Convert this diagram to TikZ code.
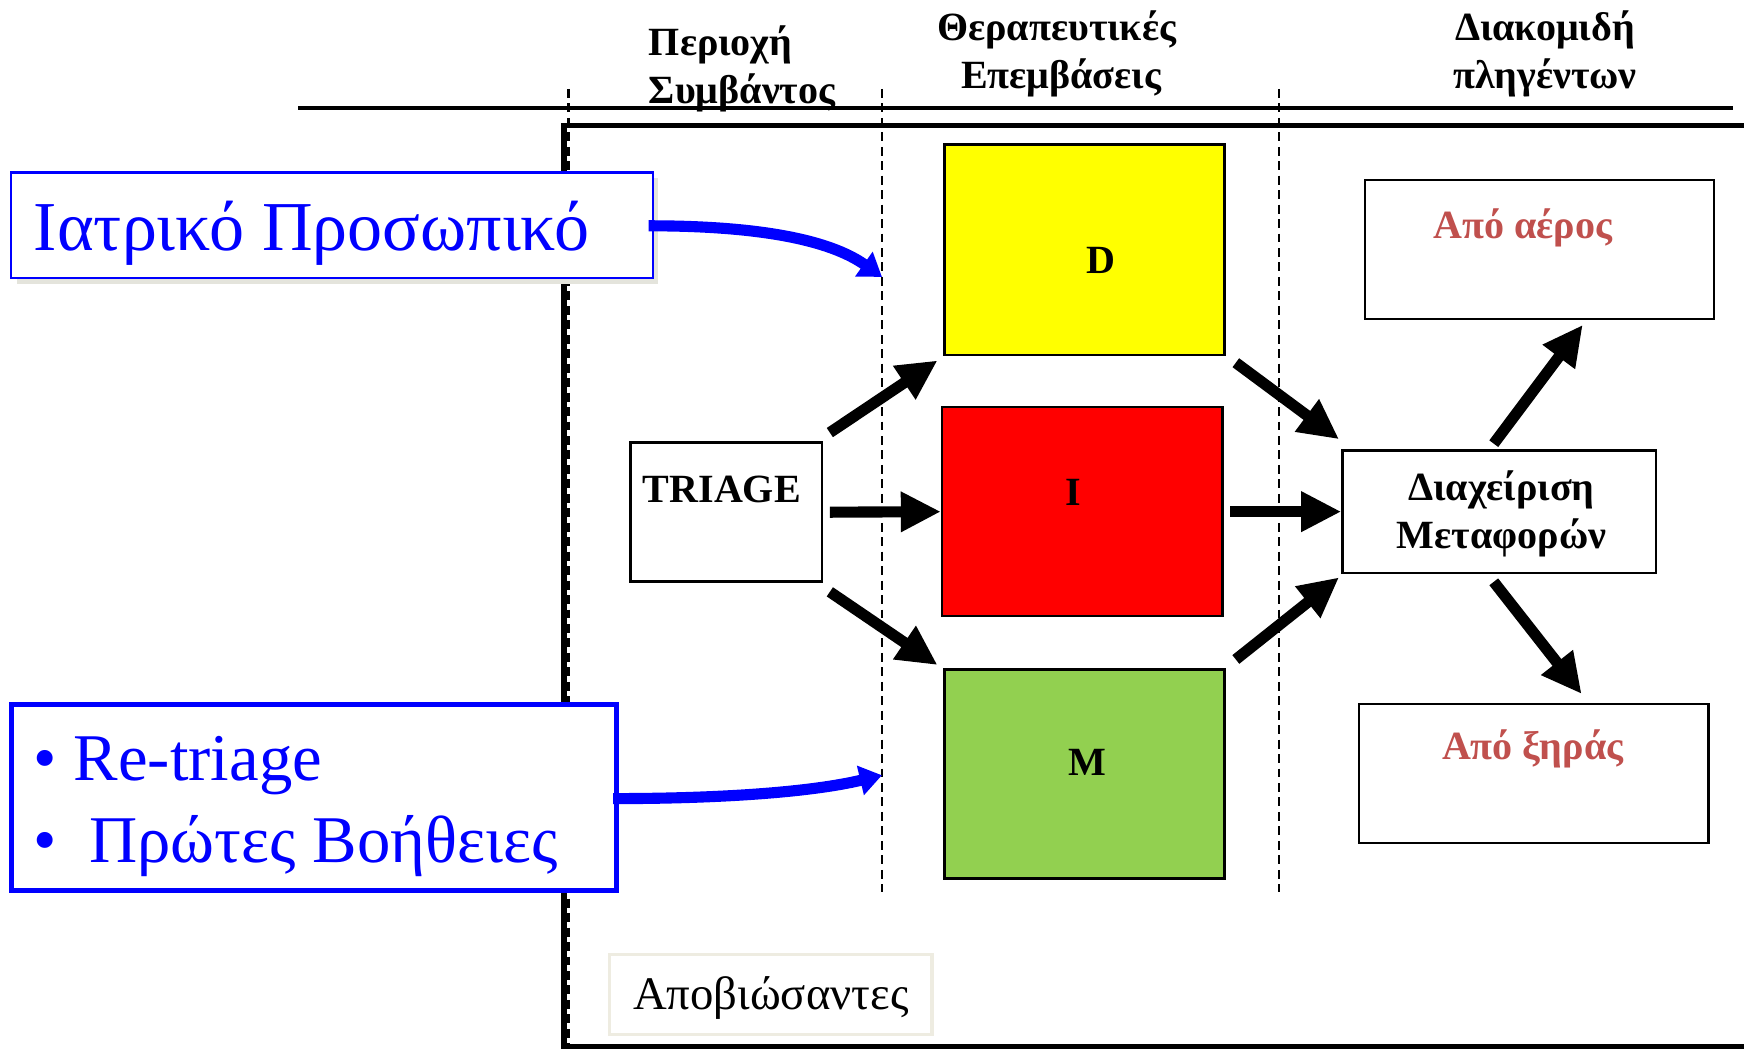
\documentclass[tikz,border=0pt]{standalone}
\usepackage{fontspec}
\setmainfont{Liberation Serif}
\usetikzlibrary{arrows.meta,calc}
\definecolor{dgreen}{HTML}{92D050}
\definecolor{redtxt}{HTML}{C0504D}
\definecolor{beige}{HTML}{EEECE1}
\definecolor{pblue}{RGB}{0,0,255}
\definecolor{pyellow}{RGB}{255,255,0}
\definecolor{shadowc}{RGB}{228,228,220}
\begin{document}
\begin{tikzpicture}[x=0.5pt,y=-0.5pt,
  box/.style={draw=black, line width=1.1pt, fill=white, inner sep=0pt},
  hdr/.style={font=\bfseries\fontsize{18}{22}\selectfont, anchor=base, inner sep=0pt},
  lbl/.style={font=\bfseries\fontsize{18}{22}\selectfont, inner sep=0pt},
  blk/.style={line width=5pt, -{Triangle[length=18pt,width=17pt]}},
  blu/.style={draw=pblue, line width=5pt, -{Triangle[length=10pt,width=13pt]}},
  frameline/.style={line width=2.5pt},
  dashline/.style={line width=1.2pt, dash pattern=on 4pt off 2.5pt}
]
\useasboundingbox (0,0) rectangle (1568,944);
% frame and rules
\draw[frameline] (1568,113) -- (507,113) -- (507,941) -- (1568,941);
\draw[line width=1.5pt] (268,97) -- (1558,97);
\draw[dashline] (511,80) -- (511,940);
\draw[dashline] (793,80) -- (793,802);
\draw[dashline] (1150,80) -- (1150,802);
% headers
\node[hdr, anchor=base west] (h1a) at (583,49.5) {Περιοχή};
\node[hdr, anchor=base west] (h1b) at (583,93) {Συμβάντος};
\node[hdr] (h2a) at (950,36) {Θεραπευτικές};
\node[hdr] (h2b) at (954,79.5) {Επεμβάσεις};
\node[hdr] (h3a) at (1389,36) {Διακομιδή};
\node[hdr] (h3b) at (1389,79.5) {πληγέντων};
% boxes
\node[box, fill=pyellow, minimum width=126pt, minimum height=94.5pt] (D) at (975,224.5) {};
\node[box, fill=red, minimum width=126pt, minimum height=94pt] (I) at (973,460) {};
\node[box, fill=dgreen, minimum width=126pt, minimum height=94pt] (M) at (975,696) {};
\node[lbl] (Dt) at (990,234) {D};
\node[lbl] (It) at (965,443) {I};
\node[lbl] (Mt) at (978,685) {M};
\node[box, minimum width=86pt, minimum height=62.5pt] (triage) at (653,460.5) {};
\node[lbl] (triaget) at (649,440) {TRIAGE};
\node[box, minimum width=141pt, minimum height=55pt] (dm) at (1348,460) {};
\node[lbl, anchor=base] (dmt1) at (1350,450) {Διαχείριση};
\node[lbl, anchor=base] (dmt2) at (1350,493) {Μεταφορών};
\node[box, minimum width=157pt, minimum height=62.5pt] (aer) at (1384,224.5) {};
\node[box, minimum width=157pt, minimum height=62.5pt] (xir) at (1379,695.5) {};
\node[lbl, text=redtxt, anchor=base] (aert) at (1369,214) {Από αέρος};
\node[lbl, text=redtxt, anchor=base] (xirt) at (1378,683) {Από ξηράς};
% left blue boxes
\fill[shadowc] (15,160) rectangle (592,255);
\node[box, draw=pblue, line width=1.2pt, minimum width=288.5pt, minimum height=47.5pt] (iatr) at (298.5,202.5) {};
\node[anchor=base west, text=pblue, font=\fontsize{31.5}{36}\selectfont, inner sep=0pt] (iatrt) at (30,225) {Ιατρικό Προσωπικό};
\node[box, draw=pblue, line width=2.25pt, minimum width=272pt, minimum height=84pt] (rtri) at (282,717) {};
\node[anchor=base west, text=pblue, font=\fontsize{30}{36}\selectfont, inner sep=0pt] (rt1) at (30,702) {• Re-triage};
\node[anchor=base west, text=pblue, font=\fontsize{30}{36}\selectfont, inner sep=0pt] (rt2) at (30,775) {• \hspace{7pt}Πρώτες Βοήθειες};
% deceased box
\node[box, draw=beige, line width=1.5pt, minimum width=145pt, minimum height=36pt] (apo) at (693,894) {};
\node[anchor=base, font=\fontsize{21}{25}\selectfont, inner sep=0pt] (apot) at (693,908) {Αποβιώσαντες};
% blue arrows
\coordinate (e1) at (793,249);
\coordinate (e2) at (793,697);
\draw[blu] ($(iatr.east)+(-5,0.5)$) .. controls (680,203) and (745,215) .. (e1);
\draw[blu] ($(rtri.east)+(-5,1)$) .. controls (650,718) and (730,712) .. (e2);
% black arrows
\draw[blk] ($(triage.north east)+(6,-8)$) -- ($(D.south west)+(-5,4)$);
\draw[blk] ($(triage.east)+(6,0)$) -- (I.west);
\draw[blk] ($(triage.south east)+(6,8)$) -- ($(M.north west)+(-5,-3)$);
\draw[blk] ($(D.south east)+(9,6)$) -- ($(dm.north west)+(-2,-9)$);
\draw[blk] ($(I.east)+(6,0)$) -- (dm.west);
\draw[blk] ($(M.north east)+(9,-8)$) -- ($(dm.south west)+(-2,3)$);
\draw[blk] ($(dm.north)+(-5,-5)$) -- ($(aer.south)+(39,4)$);
\draw[blk] ($(dm.south)+(-5,7)$) -- ($(xir.north)+(43,-8)$);
\end{tikzpicture}
\end{document}
